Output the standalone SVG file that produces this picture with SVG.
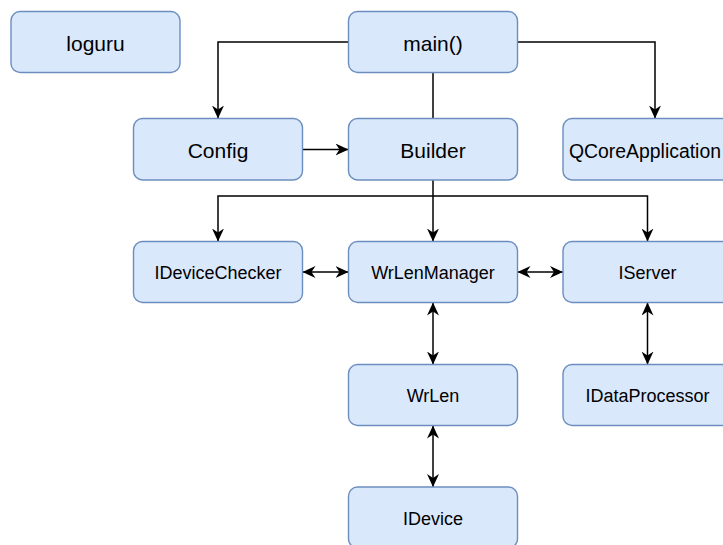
<svg xmlns="http://www.w3.org/2000/svg" width="723" height="545" viewBox="0 0 723 545">
  <style>
    .box { fill: #dae8fc; stroke: #6c8ebf; stroke-width: 1.4; }
    .lbl { font-family: "Liberation Sans", Arial, sans-serif; fill: #000; text-anchor: middle; }
    .big { font-size: 21px; }
    .small { font-size: 18px; }
    .edge { fill: none; stroke: #000; stroke-width: 1.5; }
  </style>
  <defs>
    <marker id="arr" viewBox="0 0 13 12" refX="13" refY="6" markerWidth="13" markerHeight="12" markerUnits="userSpaceOnUse" orient="auto-start-reverse">
      <path d="M0,0 L13,6 L0,12 L4,6 z" fill="#000"/>
    </marker>
  </defs>
  <rect width="723" height="545" fill="#ffffff"/>

  <g id="connectors">
    <path class="edge" d="M348.5,42 H218 V118.5" marker-end="url(#arr)"/>
    <path class="edge" d="M517.5,42 H655 V118.5" marker-end="url(#arr)"/>
    <path class="edge" d="M433,72.5 V118.5"/>
    <path class="edge" d="M302.5,149.5 H348.5" marker-end="url(#arr)"/>
    <path class="edge" d="M433,180 V241.5" marker-end="url(#arr)"/>
    <path class="edge" d="M433,196 H218 V241.5" marker-end="url(#arr)"/>
    <path class="edge" d="M433,196 H647.5 V241.5" marker-end="url(#arr)"/>
    <path class="edge" d="M302.5,272 H348.5" marker-start="url(#arr)" marker-end="url(#arr)"/>
    <path class="edge" d="M517.5,272 H563" marker-start="url(#arr)" marker-end="url(#arr)"/>
    <path class="edge" d="M433,302.5 V364.5" marker-start="url(#arr)" marker-end="url(#arr)"/>
    <path class="edge" d="M647.5,302.5 V364.5" marker-start="url(#arr)" marker-end="url(#arr)"/>
    <path class="edge" d="M433,425.5 V487" marker-start="url(#arr)" marker-end="url(#arr)"/>
  </g>

  <g id="loguru">
    <rect class="box" x="11" y="11.5" width="169" height="61" rx="9"/>
    <text class="lbl big" x="95.5" y="51">loguru</text>
  </g>
  <g id="main">
    <rect class="box" x="348.5" y="11.5" width="169" height="61" rx="9"/>
    <text class="lbl big" x="433" y="51">main()</text>
  </g>
  <g id="config">
    <rect class="box" x="133.5" y="118.5" width="169" height="61.5" rx="9"/>
    <text class="lbl big" x="218" y="158">Config</text>
  </g>
  <g id="builder">
    <rect class="box" x="348.5" y="118.5" width="169" height="61.5" rx="9"/>
    <text class="lbl big" x="433" y="158">Builder</text>
  </g>
  <g id="qcoreapplication">
    <rect class="box" x="563" y="118.5" width="184" height="61.5" rx="9"/>
    <text class="lbl" x="569" y="158" style="text-anchor:start;font-size:19.4px">QCoreApplication</text>
  </g>
  <g id="idevicechecker">
    <rect class="box" x="133.5" y="241.5" width="169" height="61" rx="9"/>
    <text class="lbl small" x="218" y="279">IDeviceChecker</text>
  </g>
  <g id="wrlenmanager">
    <rect class="box" x="348.5" y="241.5" width="169" height="61" rx="9"/>
    <text class="lbl small" x="433" y="279">WrLenManager</text>
  </g>
  <g id="iserver">
    <rect class="box" x="563" y="241.5" width="169" height="61" rx="9"/>
    <text class="lbl small" x="647.5" y="279">IServer</text>
  </g>
  <g id="wrlen">
    <rect class="box" x="348.5" y="364.5" width="169" height="61" rx="9"/>
    <text class="lbl small" x="433" y="402">WrLen</text>
  </g>
  <g id="idataprocessor">
    <rect class="box" x="563" y="364.5" width="169" height="61" rx="9"/>
    <text class="lbl small" x="647.5" y="402">IDataProcessor</text>
  </g>
  <g id="idevice">
    <rect class="box" x="348.5" y="487" width="169" height="61" rx="9"/>
    <text class="lbl small" x="433" y="525">IDevice</text>
  </g>
</svg>
